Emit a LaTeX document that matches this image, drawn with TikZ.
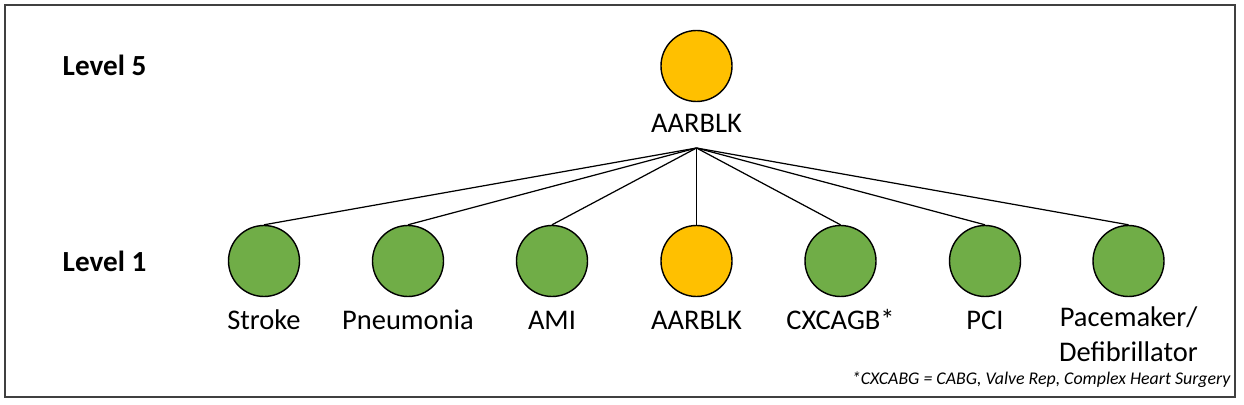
\documentclass[tikz,border=0pt]{standalone}
\usepackage{fontspec}
\setmainfont{Carlito}
\usepackage{tikz}
\usetikzlibrary{positioning}
\definecolor{goldx}{HTML}{FFC000}
\definecolor{greenx}{HTML}{70AD47}
\tikzset{
  dot/.style={circle,draw=black,line width=0.4pt,minimum size=0.71cm,inner sep=0pt},
  gdot/.style={dot,fill=greenx},
  ydot/.style={dot,fill=goldx},
  lbl/.style={font=\fontsize{8.1}{9.96}\selectfont,align=center,inner sep=0pt,anchor=base},
  lvl/.style={font=\fontsize{8.3}{10}\selectfont\bfseries,inner sep=0pt,anchor=base west},
  ln/.style={line width=0.35pt,black}
}
\begin{document}
\begin{tikzpicture}
\useasboundingbox (0,0) rectangle (12.44,4.04);
\draw[black!75,line width=0.6pt] (0.05,0.07) rectangle (12.35,3.99);
% level names
\node[lvl] (lv5) at (0.62,3.28) {Level 5};
\node[lvl] (lv1) at (0.62,1.32) {Level 1};
% top node
\node[ydot] (top) at (6.965,3.38) {};
\node[lbl] (toplbl) at (6.965,2.71) {AARBLK};
\coordinate (hub) at (6.965,2.56);
% level 1 nodes
\node[gdot] (stroke) at (2.64,1.43) {};
\node[gdot] (pneu) at (4.08,1.43) {};
\node[gdot] (ami) at (5.52,1.43) {};
\node[ydot] (aar) at (6.965,1.43) {};
\node[gdot] (cx) at (8.405,1.43) {};
\node[gdot] (pci) at (9.85,1.43) {};
\node[gdot] (pace) at (11.285,1.43) {};
\node[lbl] (strokelbl) at (2.64,0.74) {Stroke};
\node[lbl] (pneulbl) at (4.08,0.74) {Pneumonia};
\node[lbl] (amilbl) at (5.52,0.74) {AMI};
\node[lbl] (aarlbl) at (6.965,0.74) {AARBLK};
\node[lbl] (cxlbl) at (8.405,0.74) {CXCAGB*};
\node[lbl] (pcilbl) at (9.85,0.74) {PCI};
\node[lbl] (pacelbl) at (11.285,0.42) {Pacemaker/\\Defibrillator};
% links
\draw[ln] (hub) -- (stroke.north);
\draw[ln] (hub) -- (pneu.north);
\draw[ln] (hub) -- (ami.north);
\draw[ln] (hub) -- (aar.north);
\draw[ln] (hub) -- (cx.north);
\draw[ln] (hub) -- (pci.north);
\draw[ln] (hub) -- (pace.north);
\node[font=\fontsize{5.08}{6}\selectfont\itshape,inner sep=0pt,anchor=base east] (note) at (12.31,0.20) {*CXCABG = CABG, Valve Rep, Complex Heart Surgery};
\end{tikzpicture}
\end{document}
